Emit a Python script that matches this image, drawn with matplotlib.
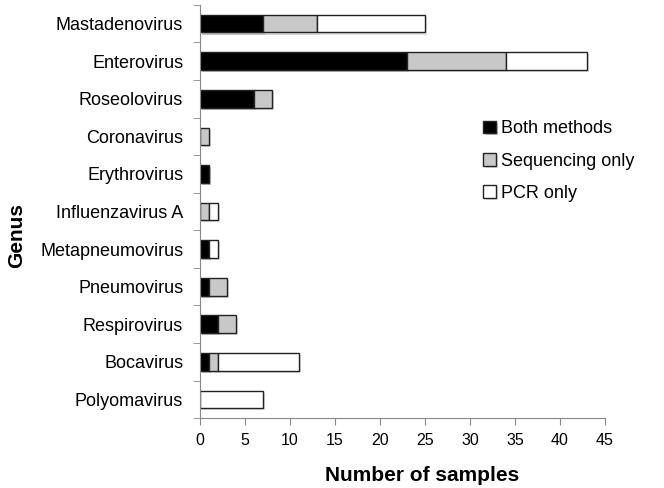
import matplotlib
matplotlib.use("Agg")
import matplotlib.pyplot as plt
import matplotlib.patheffects as pe
import numpy as np

plt.rcParams['font.family'] = ['Liberation Sans', 'DejaVu Sans']

genera = ["Mastadenovirus", "Enterovirus", "Roseolovirus", "Coronavirus", "Erythrovirus",
          "Influenzavirus A", "Metapneumovirus", "Pneumovirus", "Respirovirus", "Bocavirus",
          "Polyomavirus"]
both = [7, 23, 6, 0, 1, 0, 1, 1, 2, 1, 0]
seq_only = [6, 11, 2, 1, 0, 1, 0, 2, 2, 1, 0]
pcr_only = [12, 9, 0, 0, 0, 1, 1, 0, 0, 9, 7]
series_labels = ["Both methods", "Sequencing only", "PCR only"]
colors = ["#000000", "#c8c8c8", "#ffffff"]

fig = plt.figure(figsize=(6.64, 4.88), dpi=100)
ax = fig.add_axes([0.301, 0.143, 0.61, 0.847])

y = np.arange(len(genera))
left = np.zeros(len(genera))
shadow = [pe.SimplePatchShadow(offset=(1.5, -1.5), alpha=0.25, rho=0.5), pe.Normal()]
for vals, lab, col in zip([both, seq_only, pcr_only], series_labels, colors):
    v = np.array(vals, dtype=float)
    bars = ax.barh(y, v, left=left, height=0.47, color=col, edgecolor="#222222",
                   linewidth=1.0, label=lab)
    for b, val in zip(bars, v):
        if val == 0:
            b.set_visible(False)
        else:
            b.set_path_effects(shadow)
    left += v

ax.set_xlim(0, 45)
ax.set_ylim(len(genera) - 0.5, -0.5)
ax.set_xticks(np.arange(0, 46, 5))
ax.set_yticks(y)
ax.set_yticklabels(genera, fontsize=13)
ax.set_yticks(np.arange(-0.5, len(genera), 1), minor=True)
ax.tick_params(axis='y', which='major', length=0, pad=12)
ax.tick_params(axis='y', which='minor', length=5, color="#888888", direction='out')
ax.tick_params(axis='x', labelsize=11.5, length=5, color="#888888", pad=6)
for s in ["top", "right"]:
    ax.spines[s].set_visible(False)
for s in ["left", "bottom"]:
    ax.spines[s].set_color("#888888")

ax.set_xlabel("Number of samples", fontsize=15, fontweight="bold")
ax.set_ylabel("Genus", fontsize=15, fontweight="bold")
ax.xaxis.set_label_coords(0.548, -0.115)
ax.yaxis.set_label_coords(-0.43, 0.443)

leg = ax.legend(loc="upper left", bbox_to_anchor=(0.66, 0.76), frameon=False,
                fontsize=13, handlelength=0.7, handleheight=0.7, handletextpad=0.3,
                labelspacing=0.85)

fig.savefig("out.png", dpi=100)
